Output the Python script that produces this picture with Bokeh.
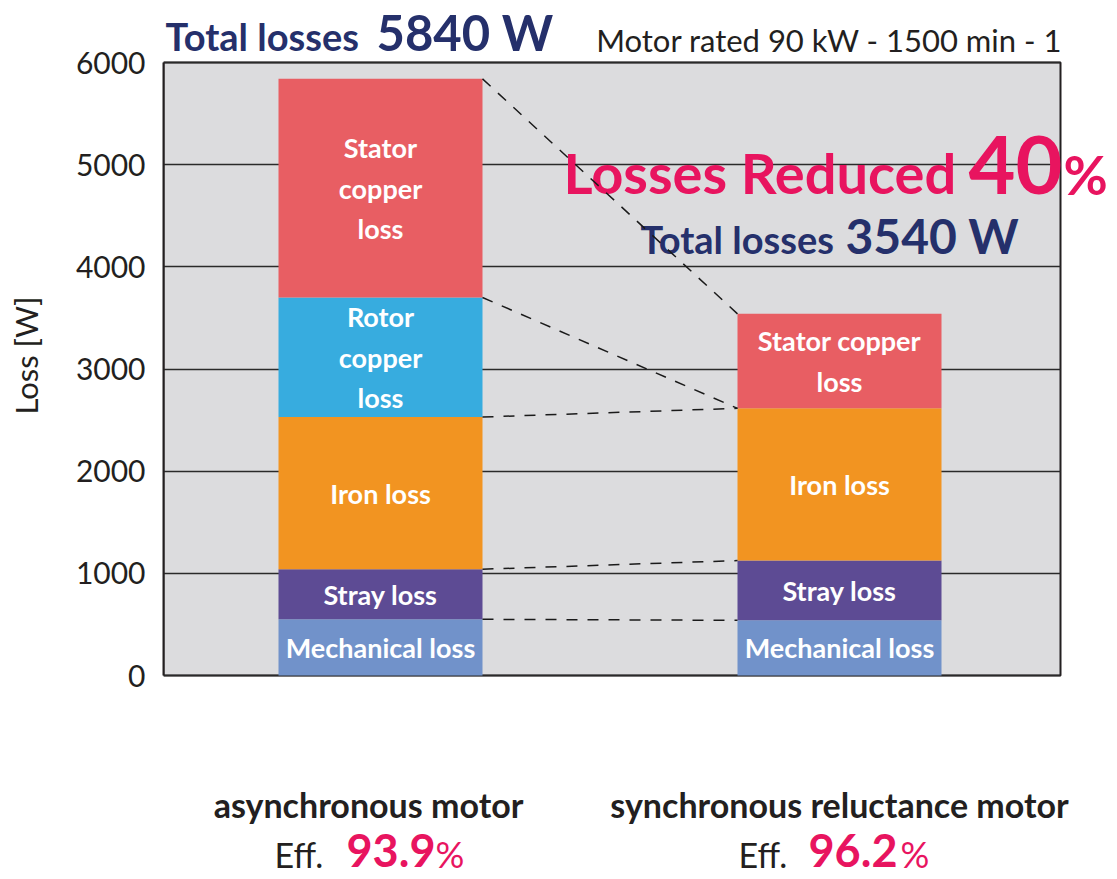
import math
from bokeh.plotting import figure
from bokeh.layouts import row
from bokeh.models import Range1d, FixedTicker, ColumnDataSource, BoxAnnotation
from bokeh.core.properties import value
from bokeh.embed import file_html
from bokeh.resources import INLINE

# ---------------- data ----------------
categories = ["asynchronous motor", "synchronous reluctance motor"]
components = ["Mechanical loss", "Stray loss", "Iron loss", "Rotor copper loss", "Stator copper loss"]
async_losses = [550, 490, 1490, 1170, 2140]
sync_losses = [540, 585, 1490, 0, 925]
async_labels = ["Mechanical loss", "Stray loss", "Iron loss", "Rotor\ncopper\nloss", "Stator\ncopper\nloss"]
sync_labels = ["Mechanical loss", "Stray loss", "Iron loss", "", "Stator copper\nloss"]
component_colors = ["#7192ca", "#5d4b94", "#f29421", "#37acdf", "#e85e63"]
total_losses = [5840, 3540]
efficiency = [93.9, 96.2]
reduction_pct = 40
y_ticks = [0, 1000, 2000, 3000, 4000, 5000, 6000]
Y_MAX = 6000

# ---------------- layout (page pixels) ----------------
W, H = 1117, 879
LW = 60                 # narrow strip holding the vertical axis title
AXIS_X = 163            # left edge of grey plot panel
PANEL_R = 1060          # right edge of grey plot panel
PANEL_T, PANEL_B = 62, 675
CX1, CX2 = 380, 839     # bar centres
BAR_PX = 204
FONT = "Lato"
NAVY = "#25306b"
PINK = "#e8145f"
DARK = "#231f20"

ux = CX2 - CX1                       # px per x unit
uy = (PANEL_B - PANEL_T) / Y_MAX     # px per W


def dx(px):
    return 1 + (px - CX1) / ux


def dy(py):
    return (PANEL_B - py) / uy


X0, X1 = dx(AXIS_X), dx(W)
XR = dx(PANEL_R)
BAR_W = BAR_PX / ux

# ---------------- axis-title strip ----------------
p0 = figure(width=LW, height=H, output_backend="svg", toolbar_location=None,
            x_range=Range1d(0, LW), y_range=Range1d(0, H),
            x_axis_location=None, y_axis_location=None,
            min_border_left=0, min_border_right=0, min_border_top=0, min_border_bottom=0,
            background_fill_color="white", border_fill_color="white", outline_line_color=None)
p0.grid.visible = False
p0.text(x=[25], y=[H - 355], text=["Loss [W]"], angle=math.pi / 2, text_align="center",
        text_baseline="middle", text_font=value(FONT), text_font_size="31px", text_color=DARK)

# ---------------- main chart ----------------
p = figure(width=W - LW, height=H, output_backend="svg", toolbar_location=None,
           x_range=Range1d(X0, X1), y_range=Range1d(dy(H), dy(0)),
           x_axis_location=None,
           min_border_left=AXIS_X - LW, min_border_right=0, min_border_top=0, min_border_bottom=0,
           background_fill_color="white", border_fill_color="white",
           outline_line_color=None)

# grey plot panel
p.add_layout(BoxAnnotation(left=X0, right=XR, bottom=0, top=Y_MAX, level="image",
                           fill_color="#dcdcde", fill_alpha=1.0,
                           line_color=DARK, line_width=2, line_alpha=1.0))

p.xgrid.visible = False
p.ygrid.grid_line_color = "#2a2a2a"
p.ygrid.grid_line_width = 1.6
p.ygrid.cross_bounds = (X0, XR)
p.yaxis.bounds = (0, Y_MAX)
p.yaxis.ticker = FixedTicker(ticks=y_ticks)
p.yaxis.major_tick_out = 0
p.yaxis.major_tick_in = 0
p.yaxis.minor_tick_line_color = None
p.yaxis.axis_line_color = DARK
p.yaxis.axis_line_width = 2
p.yaxis.major_label_text_font = FONT
p.yaxis.major_label_text_font_size = "30px"
p.yaxis.major_label_text_color = DARK
p.yaxis.major_label_standoff = 18

# ---------------- bars ----------------
xs, bottoms, tops, colors, labels, mids = [], [], [], [], [], []
for i, series in enumerate([async_losses, sync_losses]):
    lab = [async_labels, sync_labels][i]
    acc = 0
    for j, v in enumerate(series):
        if v <= 0:
            continue
        xs.append(i + 1)
        bottoms.append(acc)
        tops.append(acc + v)
        colors.append(component_colors[j])
        labels.append(lab[j])
        mids.append(acc + v / 2)
        acc += v
src = ColumnDataSource(dict(x=xs, bottom=bottoms, top=tops, color=colors, label=labels, mid=mids))
p.vbar(x="x", bottom="bottom", top="top", width=BAR_W, color="color", line_color=None, source=src)
p.text(x="x", y="mid", text="label", source=src, text_align="center", text_baseline="middle",
       text_color="white", text_font=value(FONT), text_font_style="bold",
       text_font_size="27px", text_line_height=1.22)


# ---------------- texts ----------------
def txt(text, px, py, size, color, style="normal", align="left"):
    p.text(x=[dx(px)], y=[dy(py)], text=[text], text_font=value(FONT), text_font_size=size,
           text_font_style=style, text_color=color, text_align=align, text_baseline="middle")


txt("Total losses", 165, 35, "38px", NAVY, "bold")
txt(f"{total_losses[0]} W", 376, 31, "49px", NAVY, "bold")
txt("Motor rated 90 kW - 1500 min - 1", 1062, 39, "31px", DARK, "normal", "right")

txt("Losses Reduced", 563, 172, "56px", PINK, "bold")
txt(f"{reduction_pct}", 968, 164, "81px", PINK, "bold")
txt("%", 1063, 174, "54px", PINK, "bold")

txt("Total losses", 640, 238, "38px", NAVY, "bold")
txt(f"{total_losses[1]} W", 845, 235, "48px", NAVY, "bold")

txt(categories[0], 368, 804, "34px", DARK, "bold", "center")
txt(categories[1], 839, 804, "34px", DARK, "bold", "center")

for ex, nx, pxx, eff in [(274, 346, 435, efficiency[0]), (738, 808, 900, efficiency[1])]:
    txt("Eff.", ex, 854, "34px", DARK, "normal")
    txt(f"{eff}", nx, 850, "45px", PINK, "bold")
    txt("%", pxx, 853, "36px", PINK, "normal")

# ---------------- connecting dashed lines ----------------
def cum(series):
    out, acc = [], 0
    for v in series:
        acc += v
        out.append(acc)
    return out


p.segment(x0=[1 + BAR_W / 2] * 5, y0=cum(async_losses), x1=[2 - BAR_W / 2] * 5, y1=cum(sync_losses),
          line_color="#1a1a1a", line_width=1.5, line_dash="11 10")

open("out.html", "w").write(file_html(row(p0, p), INLINE))
